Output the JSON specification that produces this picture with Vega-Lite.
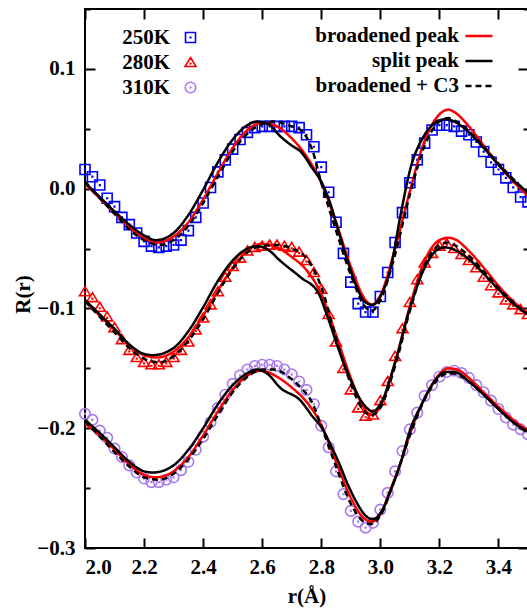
{
  "$schema": "https://vega.github.io/schema/vega-lite/v6.json",
  "width": 443,
  "height": 539,
  "autosize": {"type": "none"},
  "padding": {"left": 85, "top": 9, "right": 0, "bottom": 62},
  "background": "white",
  "config": {
    "view": {"stroke": "black", "strokeWidth": 2},
    "font": "Liberation Serif",
    "axis": {"grid": false, "tickColor": "black", "tickWidth": 2, "domainColor": "black", "domainWidth": 2, "labelColor": "black", "titleColor": "black", "labelFont": "Liberation Serif", "titleFont": "Liberation Serif", "labelFontWeight": "bold", "titleFontWeight": "bold", "labelFontSize": 21, "titleFontSize": 21},
    "legend": {"labelFont": "Liberation Serif", "labelFontWeight": "bold", "labelFontSize": 21, "labelColor": "black", "padding": 0}
  },
  "datasets": {
    "pts": [
      {"T":"250K","x":2.000,"y":0.016},{"T":"250K","x":2.025,"y":0.010},{"T":"250K","x":2.050,"y":0.003},{"T":"250K","x":2.075,"y":-0.008},{"T":"250K","x":2.100,"y":-0.015},{"T":"250K","x":2.125,"y":-0.024},{"T":"250K","x":2.150,"y":-0.030},{"T":"250K","x":2.175,"y":-0.037},{"T":"250K","x":2.200,"y":-0.044},{"T":"250K","x":2.225,"y":-0.048},{"T":"250K","x":2.250,"y":-0.049},{"T":"250K","x":2.275,"y":-0.048},{"T":"250K","x":2.300,"y":-0.047},{"T":"250K","x":2.325,"y":-0.043},{"T":"250K","x":2.350,"y":-0.035},{"T":"250K","x":2.375,"y":-0.024},{"T":"250K","x":2.400,"y":-0.012},{"T":"250K","x":2.425,"y":0.001},{"T":"250K","x":2.450,"y":0.014},{"T":"250K","x":2.475,"y":0.024},{"T":"250K","x":2.500,"y":0.033},{"T":"250K","x":2.525,"y":0.041},{"T":"250K","x":2.550,"y":0.047},{"T":"250K","x":2.575,"y":0.051},{"T":"250K","x":2.600,"y":0.052},{"T":"250K","x":2.625,"y":0.052},{"T":"250K","x":2.650,"y":0.052},{"T":"250K","x":2.675,"y":0.052},{"T":"250K","x":2.700,"y":0.052},{"T":"250K","x":2.725,"y":0.051},{"T":"250K","x":2.750,"y":0.045},{"T":"250K","x":2.775,"y":0.035},{"T":"250K","x":2.800,"y":0.018},{"T":"250K","x":2.825,"y":-0.003},{"T":"250K","x":2.850,"y":-0.028},{"T":"250K","x":2.875,"y":-0.054},{"T":"250K","x":2.900,"y":-0.078},{"T":"250K","x":2.925,"y":-0.096},{"T":"250K","x":2.950,"y":-0.103},{"T":"250K","x":2.975,"y":-0.103},{"T":"250K","x":3.000,"y":-0.090},{"T":"250K","x":3.025,"y":-0.070},{"T":"250K","x":3.050,"y":-0.045},{"T":"250K","x":3.075,"y":-0.020},{"T":"250K","x":3.100,"y":0.005},{"T":"250K","x":3.125,"y":0.024},{"T":"250K","x":3.150,"y":0.038},{"T":"250K","x":3.175,"y":0.049},{"T":"250K","x":3.200,"y":0.053},{"T":"250K","x":3.225,"y":0.053},{"T":"250K","x":3.250,"y":0.052},{"T":"250K","x":3.275,"y":0.048},{"T":"250K","x":3.300,"y":0.045},{"T":"250K","x":3.325,"y":0.039},{"T":"250K","x":3.350,"y":0.031},{"T":"250K","x":3.375,"y":0.022},{"T":"250K","x":3.400,"y":0.016},{"T":"250K","x":3.425,"y":0.009},{"T":"250K","x":3.450,"y":0.001},{"T":"250K","x":3.475,"y":-0.007},{"T":"250K","x":3.500,"y":-0.011},
      {"T":"280K","x":2.000,"y":-0.086},{"T":"280K","x":2.025,"y":-0.091},{"T":"280K","x":2.050,"y":-0.099},{"T":"280K","x":2.075,"y":-0.107},{"T":"280K","x":2.100,"y":-0.116},{"T":"280K","x":2.125,"y":-0.126},{"T":"280K","x":2.150,"y":-0.135},{"T":"280K","x":2.175,"y":-0.141},{"T":"280K","x":2.200,"y":-0.145},{"T":"280K","x":2.225,"y":-0.147},{"T":"280K","x":2.250,"y":-0.147},{"T":"280K","x":2.275,"y":-0.145},{"T":"280K","x":2.300,"y":-0.141},{"T":"280K","x":2.325,"y":-0.135},{"T":"280K","x":2.350,"y":-0.128},{"T":"280K","x":2.375,"y":-0.118},{"T":"280K","x":2.400,"y":-0.108},{"T":"280K","x":2.425,"y":-0.097},{"T":"280K","x":2.450,"y":-0.086},{"T":"280K","x":2.475,"y":-0.074},{"T":"280K","x":2.500,"y":-0.065},{"T":"280K","x":2.525,"y":-0.058},{"T":"280K","x":2.550,"y":-0.052},{"T":"280K","x":2.575,"y":-0.049},{"T":"280K","x":2.600,"y":-0.048},{"T":"280K","x":2.625,"y":-0.047},{"T":"280K","x":2.650,"y":-0.047},{"T":"280K","x":2.675,"y":-0.048},{"T":"280K","x":2.700,"y":-0.049},{"T":"280K","x":2.725,"y":-0.053},{"T":"280K","x":2.750,"y":-0.060},{"T":"280K","x":2.775,"y":-0.070},{"T":"280K","x":2.800,"y":-0.084},{"T":"280K","x":2.825,"y":-0.105},{"T":"280K","x":2.850,"y":-0.128},{"T":"280K","x":2.875,"y":-0.150},{"T":"280K","x":2.900,"y":-0.168},{"T":"280K","x":2.925,"y":-0.183},{"T":"280K","x":2.950,"y":-0.190},{"T":"280K","x":2.975,"y":-0.189},{"T":"280K","x":3.000,"y":-0.177},{"T":"280K","x":3.025,"y":-0.161},{"T":"280K","x":3.050,"y":-0.140},{"T":"280K","x":3.075,"y":-0.117},{"T":"280K","x":3.100,"y":-0.095},{"T":"280K","x":3.125,"y":-0.076},{"T":"280K","x":3.150,"y":-0.062},{"T":"280K","x":3.175,"y":-0.054},{"T":"280K","x":3.200,"y":-0.048},{"T":"280K","x":3.225,"y":-0.046},{"T":"280K","x":3.250,"y":-0.050},{"T":"280K","x":3.275,"y":-0.055},{"T":"280K","x":3.300,"y":-0.060},{"T":"280K","x":3.325,"y":-0.066},{"T":"280K","x":3.350,"y":-0.074},{"T":"280K","x":3.375,"y":-0.081},{"T":"280K","x":3.400,"y":-0.087},{"T":"280K","x":3.425,"y":-0.093},{"T":"280K","x":3.450,"y":-0.097},{"T":"280K","x":3.475,"y":-0.101},{"T":"280K","x":3.500,"y":-0.105},
      {"T":"310K","x":2.000,"y":-0.188},{"T":"310K","x":2.025,"y":-0.193},{"T":"310K","x":2.050,"y":-0.202},{"T":"310K","x":2.075,"y":-0.208},{"T":"310K","x":2.100,"y":-0.217},{"T":"310K","x":2.125,"y":-0.224},{"T":"310K","x":2.150,"y":-0.231},{"T":"310K","x":2.175,"y":-0.237},{"T":"310K","x":2.200,"y":-0.242},{"T":"310K","x":2.225,"y":-0.245},{"T":"310K","x":2.250,"y":-0.245},{"T":"310K","x":2.275,"y":-0.243},{"T":"310K","x":2.300,"y":-0.241},{"T":"310K","x":2.325,"y":-0.235},{"T":"310K","x":2.350,"y":-0.228},{"T":"310K","x":2.375,"y":-0.218},{"T":"310K","x":2.400,"y":-0.207},{"T":"310K","x":2.425,"y":-0.195},{"T":"310K","x":2.450,"y":-0.183},{"T":"310K","x":2.475,"y":-0.172},{"T":"310K","x":2.500,"y":-0.163},{"T":"310K","x":2.525,"y":-0.156},{"T":"310K","x":2.550,"y":-0.151},{"T":"310K","x":2.575,"y":-0.148},{"T":"310K","x":2.600,"y":-0.147},{"T":"310K","x":2.625,"y":-0.147},{"T":"310K","x":2.650,"y":-0.148},{"T":"310K","x":2.675,"y":-0.151},{"T":"310K","x":2.700,"y":-0.155},{"T":"310K","x":2.725,"y":-0.161},{"T":"310K","x":2.750,"y":-0.168},{"T":"310K","x":2.775,"y":-0.180},{"T":"310K","x":2.800,"y":-0.198},{"T":"310K","x":2.825,"y":-0.216},{"T":"310K","x":2.850,"y":-0.236},{"T":"310K","x":2.875,"y":-0.255},{"T":"310K","x":2.900,"y":-0.269},{"T":"310K","x":2.925,"y":-0.278},{"T":"310K","x":2.950,"y":-0.283},{"T":"310K","x":2.975,"y":-0.279},{"T":"310K","x":3.000,"y":-0.268},{"T":"310K","x":3.025,"y":-0.254},{"T":"310K","x":3.050,"y":-0.236},{"T":"310K","x":3.075,"y":-0.219},{"T":"310K","x":3.100,"y":-0.201},{"T":"310K","x":3.125,"y":-0.187},{"T":"310K","x":3.150,"y":-0.173},{"T":"310K","x":3.175,"y":-0.164},{"T":"310K","x":3.200,"y":-0.157},{"T":"310K","x":3.225,"y":-0.153},{"T":"310K","x":3.250,"y":-0.152},{"T":"310K","x":3.275,"y":-0.154},{"T":"310K","x":3.300,"y":-0.158},{"T":"310K","x":3.325,"y":-0.164},{"T":"310K","x":3.350,"y":-0.170},{"T":"310K","x":3.375,"y":-0.177},{"T":"310K","x":3.400,"y":-0.184},{"T":"310K","x":3.425,"y":-0.191},{"T":"310K","x":3.450,"y":-0.197},{"T":"310K","x":3.475,"y":-0.201},{"T":"310K","x":3.500,"y":-0.205}
    ],
    "fit": [
      {"T":"250K","m":"broadened peak","x":2.0,"y":0.004},{"T":"250K","m":"broadened peak","x":2.05,"y":-0.008},{"T":"250K","m":"broadened peak","x":2.1,"y":-0.020},{"T":"250K","m":"broadened peak","x":2.15,"y":-0.032},{"T":"250K","m":"broadened peak","x":2.2,"y":-0.041},{"T":"250K","m":"broadened peak","x":2.24,"y":-0.045},{"T":"250K","m":"broadened peak","x":2.3,"y":-0.040},{"T":"250K","m":"broadened peak","x":2.35,"y":-0.028},{"T":"250K","m":"broadened peak","x":2.4,"y":-0.009},{"T":"250K","m":"broadened peak","x":2.45,"y":0.013},{"T":"250K","m":"broadened peak","x":2.5,"y":0.034},{"T":"250K","m":"broadened peak","x":2.55,"y":0.049},{"T":"250K","m":"broadened peak","x":2.6,"y":0.055},{"T":"250K","m":"broadened peak","x":2.65,"y":0.052},{"T":"250K","m":"broadened peak","x":2.7,"y":0.042},{"T":"250K","m":"broadened peak","x":2.75,"y":0.027},{"T":"250K","m":"broadened peak","x":2.8,"y":0.005},{"T":"250K","m":"broadened peak","x":2.85,"y":-0.028},{"T":"250K","m":"broadened peak","x":2.9,"y":-0.065},{"T":"250K","m":"broadened peak","x":2.95,"y":-0.093},{"T":"250K","m":"broadened peak","x":2.97,"y":-0.097},{"T":"250K","m":"broadened peak","x":3.0,"y":-0.089},{"T":"250K","m":"broadened peak","x":3.05,"y":-0.050},{"T":"250K","m":"broadened peak","x":3.1,"y":-0.002},{"T":"250K","m":"broadened peak","x":3.15,"y":0.040},{"T":"250K","m":"broadened peak","x":3.2,"y":0.062},{"T":"250K","m":"broadened peak","x":3.23,"y":0.066},{"T":"250K","m":"broadened peak","x":3.25,"y":0.064},{"T":"250K","m":"broadened peak","x":3.3,"y":0.052},{"T":"250K","m":"broadened peak","x":3.35,"y":0.036},{"T":"250K","m":"broadened peak","x":3.4,"y":0.020},{"T":"250K","m":"broadened peak","x":3.45,"y":0.006},{"T":"250K","m":"broadened peak","x":3.5,"y":-0.006},
      {"T":"250K","m":"split peak","x":2.0,"y":0.005},{"T":"250K","m":"split peak","x":2.05,"y":-0.007},{"T":"250K","m":"split peak","x":2.1,"y":-0.019},{"T":"250K","m":"split peak","x":2.15,"y":-0.030},{"T":"250K","m":"split peak","x":2.2,"y":-0.039},{"T":"250K","m":"split peak","x":2.24,"y":-0.043},{"T":"250K","m":"split peak","x":2.3,"y":-0.037},{"T":"250K","m":"split peak","x":2.35,"y":-0.022},{"T":"250K","m":"split peak","x":2.4,"y":-0.001},{"T":"250K","m":"split peak","x":2.45,"y":0.022},{"T":"250K","m":"split peak","x":2.5,"y":0.041},{"T":"250K","m":"split peak","x":2.55,"y":0.053},{"T":"250K","m":"split peak","x":2.58,"y":0.056},{"T":"250K","m":"split peak","x":2.62,"y":0.054},{"T":"250K","m":"split peak","x":2.66,"y":0.044},{"T":"250K","m":"split peak","x":2.7,"y":0.036},{"T":"250K","m":"split peak","x":2.73,"y":0.031},{"T":"250K","m":"split peak","x":2.77,"y":0.017},{"T":"250K","m":"split peak","x":2.8,"y":0.006},{"T":"250K","m":"split peak","x":2.83,"y":-0.012},{"T":"250K","m":"split peak","x":2.86,"y":-0.037},{"T":"250K","m":"split peak","x":2.89,"y":-0.061},{"T":"250K","m":"split peak","x":2.92,"y":-0.082},{"T":"250K","m":"split peak","x":2.95,"y":-0.095},{"T":"250K","m":"split peak","x":2.975,"y":-0.097},{"T":"250K","m":"split peak","x":3.0,"y":-0.090},{"T":"250K","m":"split peak","x":3.035,"y":-0.066},{"T":"250K","m":"split peak","x":3.07,"y":-0.020},{"T":"250K","m":"split peak","x":3.1,"y":0.015},{"T":"250K","m":"split peak","x":3.15,"y":0.045},{"T":"250K","m":"split peak","x":3.2,"y":0.057},{"T":"250K","m":"split peak","x":3.22,"y":0.058},{"T":"250K","m":"split peak","x":3.25,"y":0.056},{"T":"250K","m":"split peak","x":3.3,"y":0.047},{"T":"250K","m":"split peak","x":3.35,"y":0.034},{"T":"250K","m":"split peak","x":3.4,"y":0.020},{"T":"250K","m":"split peak","x":3.45,"y":0.007},{"T":"250K","m":"split peak","x":3.5,"y":-0.003},
      {"T":"250K","m":"broadened + C3","x":2.0,"y":0.006},{"T":"250K","m":"broadened + C3","x":2.05,"y":-0.008},{"T":"250K","m":"broadened + C3","x":2.1,"y":-0.021},{"T":"250K","m":"broadened + C3","x":2.15,"y":-0.034},{"T":"250K","m":"broadened + C3","x":2.2,"y":-0.043},{"T":"250K","m":"broadened + C3","x":2.25,"y":-0.047},{"T":"250K","m":"broadened + C3","x":2.3,"y":-0.043},{"T":"250K","m":"broadened + C3","x":2.35,"y":-0.031},{"T":"250K","m":"broadened + C3","x":2.4,"y":-0.012},{"T":"250K","m":"broadened + C3","x":2.45,"y":0.010},{"T":"250K","m":"broadened + C3","x":2.5,"y":0.031},{"T":"250K","m":"broadened + C3","x":2.55,"y":0.046},{"T":"250K","m":"broadened + C3","x":2.6,"y":0.054},{"T":"250K","m":"broadened + C3","x":2.64,"y":0.056},{"T":"250K","m":"broadened + C3","x":2.7,"y":0.052},{"T":"250K","m":"broadened + C3","x":2.73,"y":0.049},{"T":"250K","m":"broadened + C3","x":2.77,"y":0.032},{"T":"250K","m":"broadened + C3","x":2.8,"y":0.005},{"T":"250K","m":"broadened + C3","x":2.85,"y":-0.035},{"T":"250K","m":"broadened + C3","x":2.9,"y":-0.072},{"T":"250K","m":"broadened + C3","x":2.95,"y":-0.099},{"T":"250K","m":"broadened + C3","x":2.97,"y":-0.102},{"T":"250K","m":"broadened + C3","x":3.0,"y":-0.093},{"T":"250K","m":"broadened + C3","x":3.05,"y":-0.055},{"T":"250K","m":"broadened + C3","x":3.1,"y":-0.005},{"T":"250K","m":"broadened + C3","x":3.15,"y":0.036},{"T":"250K","m":"broadened + C3","x":3.2,"y":0.056},{"T":"250K","m":"broadened + C3","x":3.23,"y":0.059},{"T":"250K","m":"broadened + C3","x":3.25,"y":0.057},{"T":"250K","m":"broadened + C3","x":3.3,"y":0.048},{"T":"250K","m":"broadened + C3","x":3.35,"y":0.035},{"T":"250K","m":"broadened + C3","x":3.4,"y":0.021},{"T":"250K","m":"broadened + C3","x":3.45,"y":0.008},{"T":"250K","m":"broadened + C3","x":3.5,"y":-0.004},
      {"T":"280K","m":"broadened peak","x":2.0,"y":-0.094},{"T":"280K","m":"broadened peak","x":2.05,"y":-0.106},{"T":"280K","m":"broadened peak","x":2.1,"y":-0.118},{"T":"280K","m":"broadened peak","x":2.15,"y":-0.131},{"T":"280K","m":"broadened peak","x":2.2,"y":-0.139},{"T":"280K","m":"broadened peak","x":2.24,"y":-0.141},{"T":"280K","m":"broadened peak","x":2.3,"y":-0.136},{"T":"280K","m":"broadened peak","x":2.35,"y":-0.124},{"T":"280K","m":"broadened peak","x":2.4,"y":-0.106},{"T":"280K","m":"broadened peak","x":2.45,"y":-0.085},{"T":"280K","m":"broadened peak","x":2.5,"y":-0.066},{"T":"280K","m":"broadened peak","x":2.55,"y":-0.052},{"T":"280K","m":"broadened peak","x":2.6,"y":-0.046},{"T":"280K","m":"broadened peak","x":2.65,"y":-0.049},{"T":"280K","m":"broadened peak","x":2.7,"y":-0.057},{"T":"280K","m":"broadened peak","x":2.75,"y":-0.068},{"T":"280K","m":"broadened peak","x":2.8,"y":-0.088},{"T":"280K","m":"broadened peak","x":2.85,"y":-0.122},{"T":"280K","m":"broadened peak","x":2.9,"y":-0.158},{"T":"280K","m":"broadened peak","x":2.95,"y":-0.185},{"T":"280K","m":"broadened peak","x":2.97,"y":-0.189},{"T":"280K","m":"broadened peak","x":3.0,"y":-0.182},{"T":"280K","m":"broadened peak","x":3.05,"y":-0.145},{"T":"280K","m":"broadened peak","x":3.1,"y":-0.098},{"T":"280K","m":"broadened peak","x":3.15,"y":-0.060},{"T":"280K","m":"broadened peak","x":3.2,"y":-0.043},{"T":"280K","m":"broadened peak","x":3.23,"y":-0.041},{"T":"280K","m":"broadened peak","x":3.25,"y":-0.042},{"T":"280K","m":"broadened peak","x":3.3,"y":-0.052},{"T":"280K","m":"broadened peak","x":3.35,"y":-0.066},{"T":"280K","m":"broadened peak","x":3.4,"y":-0.081},{"T":"280K","m":"broadened peak","x":3.45,"y":-0.094},{"T":"280K","m":"broadened peak","x":3.5,"y":-0.104},
      {"T":"280K","m":"split peak","x":2.0,"y":-0.093},{"T":"280K","m":"split peak","x":2.05,"y":-0.105},{"T":"280K","m":"split peak","x":2.1,"y":-0.117},{"T":"280K","m":"split peak","x":2.15,"y":-0.130},{"T":"280K","m":"split peak","x":2.2,"y":-0.138},{"T":"280K","m":"split peak","x":2.23,"y":-0.139},{"T":"280K","m":"split peak","x":2.3,"y":-0.133},{"T":"280K","m":"split peak","x":2.35,"y":-0.119},{"T":"280K","m":"split peak","x":2.4,"y":-0.099},{"T":"280K","m":"split peak","x":2.45,"y":-0.077},{"T":"280K","m":"split peak","x":2.5,"y":-0.060},{"T":"280K","m":"split peak","x":2.55,"y":-0.050},{"T":"280K","m":"split peak","x":2.58,"y":-0.048},{"T":"280K","m":"split peak","x":2.62,"y":-0.051},{"T":"280K","m":"split peak","x":2.66,"y":-0.060},{"T":"280K","m":"split peak","x":2.73,"y":-0.074},{"T":"280K","m":"split peak","x":2.79,"y":-0.087},{"T":"280K","m":"split peak","x":2.82,"y":-0.106},{"T":"280K","m":"split peak","x":2.86,"y":-0.135},{"T":"280K","m":"split peak","x":2.9,"y":-0.160},{"T":"280K","m":"split peak","x":2.95,"y":-0.182},{"T":"280K","m":"split peak","x":2.975,"y":-0.186},{"T":"280K","m":"split peak","x":3.0,"y":-0.180},{"T":"280K","m":"split peak","x":3.05,"y":-0.145},{"T":"280K","m":"split peak","x":3.1,"y":-0.100},{"T":"280K","m":"split peak","x":3.15,"y":-0.066},{"T":"280K","m":"split peak","x":3.2,"y":-0.050},{"T":"280K","m":"split peak","x":3.22,"y":-0.049},{"T":"280K","m":"split peak","x":3.25,"y":-0.051},{"T":"280K","m":"split peak","x":3.3,"y":-0.059},{"T":"280K","m":"split peak","x":3.35,"y":-0.071},{"T":"280K","m":"split peak","x":3.4,"y":-0.084},{"T":"280K","m":"split peak","x":3.45,"y":-0.096},{"T":"280K","m":"split peak","x":3.5,"y":-0.105},
      {"T":"280K","m":"broadened + C3","x":2.0,"y":-0.094},{"T":"280K","m":"broadened + C3","x":2.05,"y":-0.107},{"T":"280K","m":"broadened + C3","x":2.1,"y":-0.120},{"T":"280K","m":"broadened + C3","x":2.15,"y":-0.133},{"T":"280K","m":"broadened + C3","x":2.2,"y":-0.142},{"T":"280K","m":"broadened + C3","x":2.25,"y":-0.145},{"T":"280K","m":"broadened + C3","x":2.3,"y":-0.140},{"T":"280K","m":"broadened + C3","x":2.35,"y":-0.127},{"T":"280K","m":"broadened + C3","x":2.4,"y":-0.109},{"T":"280K","m":"broadened + C3","x":2.45,"y":-0.087},{"T":"280K","m":"broadened + C3","x":2.5,"y":-0.067},{"T":"280K","m":"broadened + C3","x":2.55,"y":-0.053},{"T":"280K","m":"broadened + C3","x":2.6,"y":-0.048},{"T":"280K","m":"broadened + C3","x":2.65,"y":-0.047},{"T":"280K","m":"broadened + C3","x":2.7,"y":-0.050},{"T":"280K","m":"broadened + C3","x":2.75,"y":-0.058},{"T":"280K","m":"broadened + C3","x":2.8,"y":-0.082},{"T":"280K","m":"broadened + C3","x":2.85,"y":-0.125},{"T":"280K","m":"broadened + C3","x":2.9,"y":-0.163},{"T":"280K","m":"broadened + C3","x":2.95,"y":-0.187},{"T":"280K","m":"broadened + C3","x":2.97,"y":-0.189},{"T":"280K","m":"broadened + C3","x":3.0,"y":-0.183},{"T":"280K","m":"broadened + C3","x":3.05,"y":-0.148},{"T":"280K","m":"broadened + C3","x":3.1,"y":-0.102},{"T":"280K","m":"broadened + C3","x":3.15,"y":-0.064},{"T":"280K","m":"broadened + C3","x":3.2,"y":-0.047},{"T":"280K","m":"broadened + C3","x":3.23,"y":-0.045},{"T":"280K","m":"broadened + C3","x":3.25,"y":-0.047},{"T":"280K","m":"broadened + C3","x":3.3,"y":-0.056},{"T":"280K","m":"broadened + C3","x":3.35,"y":-0.069},{"T":"280K","m":"broadened + C3","x":3.4,"y":-0.083},{"T":"280K","m":"broadened + C3","x":3.45,"y":-0.095},{"T":"280K","m":"broadened + C3","x":3.5,"y":-0.105},
      {"T":"310K","m":"broadened peak","x":2.0,"y":-0.196},{"T":"310K","m":"broadened peak","x":2.05,"y":-0.206},{"T":"310K","m":"broadened peak","x":2.1,"y":-0.218},{"T":"310K","m":"broadened peak","x":2.15,"y":-0.230},{"T":"310K","m":"broadened peak","x":2.2,"y":-0.239},{"T":"310K","m":"broadened peak","x":2.24,"y":-0.241},{"T":"310K","m":"broadened peak","x":2.3,"y":-0.236},{"T":"310K","m":"broadened peak","x":2.35,"y":-0.224},{"T":"310K","m":"broadened peak","x":2.4,"y":-0.206},{"T":"310K","m":"broadened peak","x":2.45,"y":-0.186},{"T":"310K","m":"broadened peak","x":2.5,"y":-0.168},{"T":"310K","m":"broadened peak","x":2.55,"y":-0.156},{"T":"310K","m":"broadened peak","x":2.6,"y":-0.152},{"T":"310K","m":"broadened peak","x":2.65,"y":-0.157},{"T":"310K","m":"broadened peak","x":2.7,"y":-0.166},{"T":"310K","m":"broadened peak","x":2.75,"y":-0.178},{"T":"310K","m":"broadened peak","x":2.8,"y":-0.197},{"T":"310K","m":"broadened peak","x":2.85,"y":-0.228},{"T":"310K","m":"broadened peak","x":2.9,"y":-0.258},{"T":"310K","m":"broadened peak","x":2.94,"y":-0.274},{"T":"310K","m":"broadened peak","x":2.97,"y":-0.278},{"T":"310K","m":"broadened peak","x":3.0,"y":-0.272},{"T":"310K","m":"broadened peak","x":3.03,"y":-0.254},{"T":"310K","m":"broadened peak","x":3.07,"y":-0.228},{"T":"310K","m":"broadened peak","x":3.1,"y":-0.205},{"T":"310K","m":"broadened peak","x":3.15,"y":-0.175},{"T":"310K","m":"broadened peak","x":3.2,"y":-0.155},{"T":"310K","m":"broadened peak","x":3.23,"y":-0.150},{"T":"310K","m":"broadened peak","x":3.26,"y":-0.151},{"T":"310K","m":"broadened peak","x":3.3,"y":-0.158},{"T":"310K","m":"broadened peak","x":3.35,"y":-0.170},{"T":"310K","m":"broadened peak","x":3.4,"y":-0.182},{"T":"310K","m":"broadened peak","x":3.45,"y":-0.193},{"T":"310K","m":"broadened peak","x":3.5,"y":-0.202},
      {"T":"310K","m":"split peak","x":2.0,"y":-0.193},{"T":"310K","m":"split peak","x":2.05,"y":-0.204},{"T":"310K","m":"split peak","x":2.1,"y":-0.216},{"T":"310K","m":"split peak","x":2.15,"y":-0.228},{"T":"310K","m":"split peak","x":2.2,"y":-0.236},{"T":"310K","m":"split peak","x":2.23,"y":-0.237},{"T":"310K","m":"split peak","x":2.3,"y":-0.231},{"T":"310K","m":"split peak","x":2.35,"y":-0.218},{"T":"310K","m":"split peak","x":2.4,"y":-0.200},{"T":"310K","m":"split peak","x":2.45,"y":-0.180},{"T":"310K","m":"split peak","x":2.5,"y":-0.164},{"T":"310K","m":"split peak","x":2.55,"y":-0.154},{"T":"310K","m":"split peak","x":2.58,"y":-0.151},{"T":"310K","m":"split peak","x":2.62,"y":-0.155},{"T":"310K","m":"split peak","x":2.66,"y":-0.166},{"T":"310K","m":"split peak","x":2.73,"y":-0.177},{"T":"310K","m":"split peak","x":2.77,"y":-0.190},{"T":"310K","m":"split peak","x":2.8,"y":-0.199},{"T":"310K","m":"split peak","x":2.83,"y":-0.213},{"T":"310K","m":"split peak","x":2.86,"y":-0.229},{"T":"310K","m":"split peak","x":2.89,"y":-0.247},{"T":"310K","m":"split peak","x":2.92,"y":-0.262},{"T":"310K","m":"split peak","x":2.95,"y":-0.273},{"T":"310K","m":"split peak","x":2.975,"y":-0.276},{"T":"310K","m":"split peak","x":3.0,"y":-0.271},{"T":"310K","m":"split peak","x":3.035,"y":-0.252},{"T":"310K","m":"split peak","x":3.07,"y":-0.228},{"T":"310K","m":"split peak","x":3.1,"y":-0.202},{"T":"310K","m":"split peak","x":3.14,"y":-0.180},{"T":"310K","m":"split peak","x":3.18,"y":-0.162},{"T":"310K","m":"split peak","x":3.22,"y":-0.153},{"T":"310K","m":"split peak","x":3.25,"y":-0.153},{"T":"310K","m":"split peak","x":3.3,"y":-0.161},{"T":"310K","m":"split peak","x":3.35,"y":-0.172},{"T":"310K","m":"split peak","x":3.4,"y":-0.184},{"T":"310K","m":"split peak","x":3.45,"y":-0.195},{"T":"310K","m":"split peak","x":3.5,"y":-0.203},
      {"T":"310K","m":"broadened + C3","x":2.0,"y":-0.194},{"T":"310K","m":"broadened + C3","x":2.05,"y":-0.207},{"T":"310K","m":"broadened + C3","x":2.1,"y":-0.220},{"T":"310K","m":"broadened + C3","x":2.15,"y":-0.232},{"T":"310K","m":"broadened + C3","x":2.2,"y":-0.241},{"T":"310K","m":"broadened + C3","x":2.25,"y":-0.243},{"T":"310K","m":"broadened + C3","x":2.3,"y":-0.238},{"T":"310K","m":"broadened + C3","x":2.35,"y":-0.226},{"T":"310K","m":"broadened + C3","x":2.4,"y":-0.209},{"T":"310K","m":"broadened + C3","x":2.45,"y":-0.189},{"T":"310K","m":"broadened + C3","x":2.5,"y":-0.170},{"T":"310K","m":"broadened + C3","x":2.55,"y":-0.157},{"T":"310K","m":"broadened + C3","x":2.6,"y":-0.151},{"T":"310K","m":"broadened + C3","x":2.64,"y":-0.151},{"T":"310K","m":"broadened + C3","x":2.7,"y":-0.159},{"T":"310K","m":"broadened + C3","x":2.73,"y":-0.166},{"T":"310K","m":"broadened + C3","x":2.77,"y":-0.179},{"T":"310K","m":"broadened + C3","x":2.8,"y":-0.198},{"T":"310K","m":"broadened + C3","x":2.85,"y":-0.232},{"T":"310K","m":"broadened + C3","x":2.9,"y":-0.263},{"T":"310K","m":"broadened + C3","x":2.95,"y":-0.279},{"T":"310K","m":"broadened + C3","x":2.97,"y":-0.280},{"T":"310K","m":"broadened + C3","x":3.0,"y":-0.273},{"T":"310K","m":"broadened + C3","x":3.05,"y":-0.242},{"T":"310K","m":"broadened + C3","x":3.1,"y":-0.206},{"T":"310K","m":"broadened + C3","x":3.15,"y":-0.176},{"T":"310K","m":"broadened + C3","x":3.2,"y":-0.158},{"T":"310K","m":"broadened + C3","x":3.23,"y":-0.154},{"T":"310K","m":"broadened + C3","x":3.26,"y":-0.155},{"T":"310K","m":"broadened + C3","x":3.3,"y":-0.161},{"T":"310K","m":"broadened + C3","x":3.35,"y":-0.172},{"T":"310K","m":"broadened + C3","x":3.4,"y":-0.184},{"T":"310K","m":"broadened + C3","x":3.45,"y":-0.195},{"T":"310K","m":"broadened + C3","x":3.5,"y":-0.204}
    ]
  },
  "layer": [
    {
      "data": {"name": "pts"},
      "mark": {"type": "point", "filled": false, "strokeWidth": 1.6, "size": 100, "opacity": 1, "clip": false},
      "encoding": {
        "x": {"field": "x", "type": "quantitative", "scale": {"domain": [2.0, 3.5], "nice": false, "zero": false},
          "axis": {"orient": "bottom", "values": [2.0, 2.2, 2.4, 2.6, 2.8, 3.0, 3.2, 3.4], "format": ".1f", "tickSize": -10, "labelPadding": 18, "title": "r(Å)", "titlePadding": 8, "domain": false}},
        "y": {"field": "y", "type": "quantitative", "scale": {"domain": [-0.3, 0.15], "nice": false, "zero": false},
          "axis": {"orient": "left", "values": [-0.3, -0.25, -0.2, -0.15, -0.1, -0.05, 0, 0.05, 0.1, 0.15], "labelExpr": "abs(datum.value*10 - round(datum.value*10)) < 0.01 && datum.value < 0.14 ? format(datum.value, '.1f') : ''", "tickSize": {"condition": {"test": "abs(datum.value*10 - round(datum.value*10)) < 0.01", "value": -10}, "value": -5}, "labelPadding": 20, "title": "R(r)", "titlePadding": 3, "titleY": 285, "domain": false}},
        "color": {"field": "T", "type": "nominal", "scale": {"domain": ["250K", "280K", "310K"], "range": ["#0000ff", "#ff0000", "#a878f0"]},
          "legend": {"orient": "none", "legendX": 95, "legendY": 18, "title": null, "symbolStrokeWidth": 1.6, "symbolSize": 100, "rowPadding": 3, "labelAlign": "right", "labelOffset": -31}},
        "shape": {"field": "T", "type": "nominal", "scale": {"domain": ["250K", "280K", "310K"], "range": ["M-1,-1H1V1H-1Z M-0.06,-0.06H0.06V0.06H-0.06Z", "M0,-1L1.1,0.8H-1.1Z M-0.06,0.14H0.06V0.26H-0.06Z", "M1.05,0A1.05,1.05,0,1,1,-1.05,0A1.05,1.05,0,1,1,1.05,0Z M-0.06,-0.06H0.06V0.06H-0.06Z"]},
          "legend": {"orient": "none", "legendX": 95, "legendY": 18, "title": null, "symbolStrokeWidth": 1.6, "symbolSize": 100, "rowPadding": 3, "labelAlign": "right", "labelOffset": -31}}
      }
    },
    {
      "data": {"name": "fit"},
      "mark": {"type": "line", "strokeWidth": 2.5, "interpolate": "monotone", "clip": true},
      "encoding": {
        "x": {"field": "x", "type": "quantitative",
          "axis": {"orient": "top", "values": [2.0, 2.2, 2.4, 2.6, 2.8, 3.0, 3.2, 3.4], "tickSize": -10, "labels": false, "title": null, "domain": false}},
        "y": {"field": "y", "type": "quantitative",
          "axis": {"orient": "right", "values": [-0.3, -0.25, -0.2, -0.15, -0.1, -0.05, 0, 0.05, 0.1, 0.15], "tickSize": {"condition": {"test": "abs(datum.value*10 - round(datum.value*10)) < 0.01", "value": -10}, "value": -5}, "labels": false, "title": null, "domain": false}},
        "detail": {"field": "T", "type": "nominal"},
        "color": {"field": "m", "type": "nominal", "scale": {"domain": ["broadened peak", "split peak", "broadened + C3"], "range": ["#ff0000", "#000000", "#000000"]},
          "legend": {"orient": "none", "legendX": 379, "legendY": 12, "title": null, "symbolType": "stroke", "symbolSize": 729, "symbolStrokeWidth": 2.5, "rowPadding": 0, "labelAlign": "right", "labelOffset": -35}},
        "strokeDash": {"field": "m", "type": "nominal", "scale": {"domain": ["broadened peak", "split peak", "broadened + C3"], "range": [[1, 0], [1, 0], [6, 4]]},
          "legend": {"orient": "none", "legendX": 379, "legendY": 12, "title": null, "symbolType": "stroke", "symbolSize": 729, "symbolStrokeWidth": 2.5, "rowPadding": 0, "labelAlign": "right", "labelOffset": -35}}
      }
    }
  ],
  "resolve": {
    "scale": {"color": "independent", "shape": "independent", "strokeDash": "independent"},
    "axis": {"x": "independent", "y": "independent"}
  }
}
